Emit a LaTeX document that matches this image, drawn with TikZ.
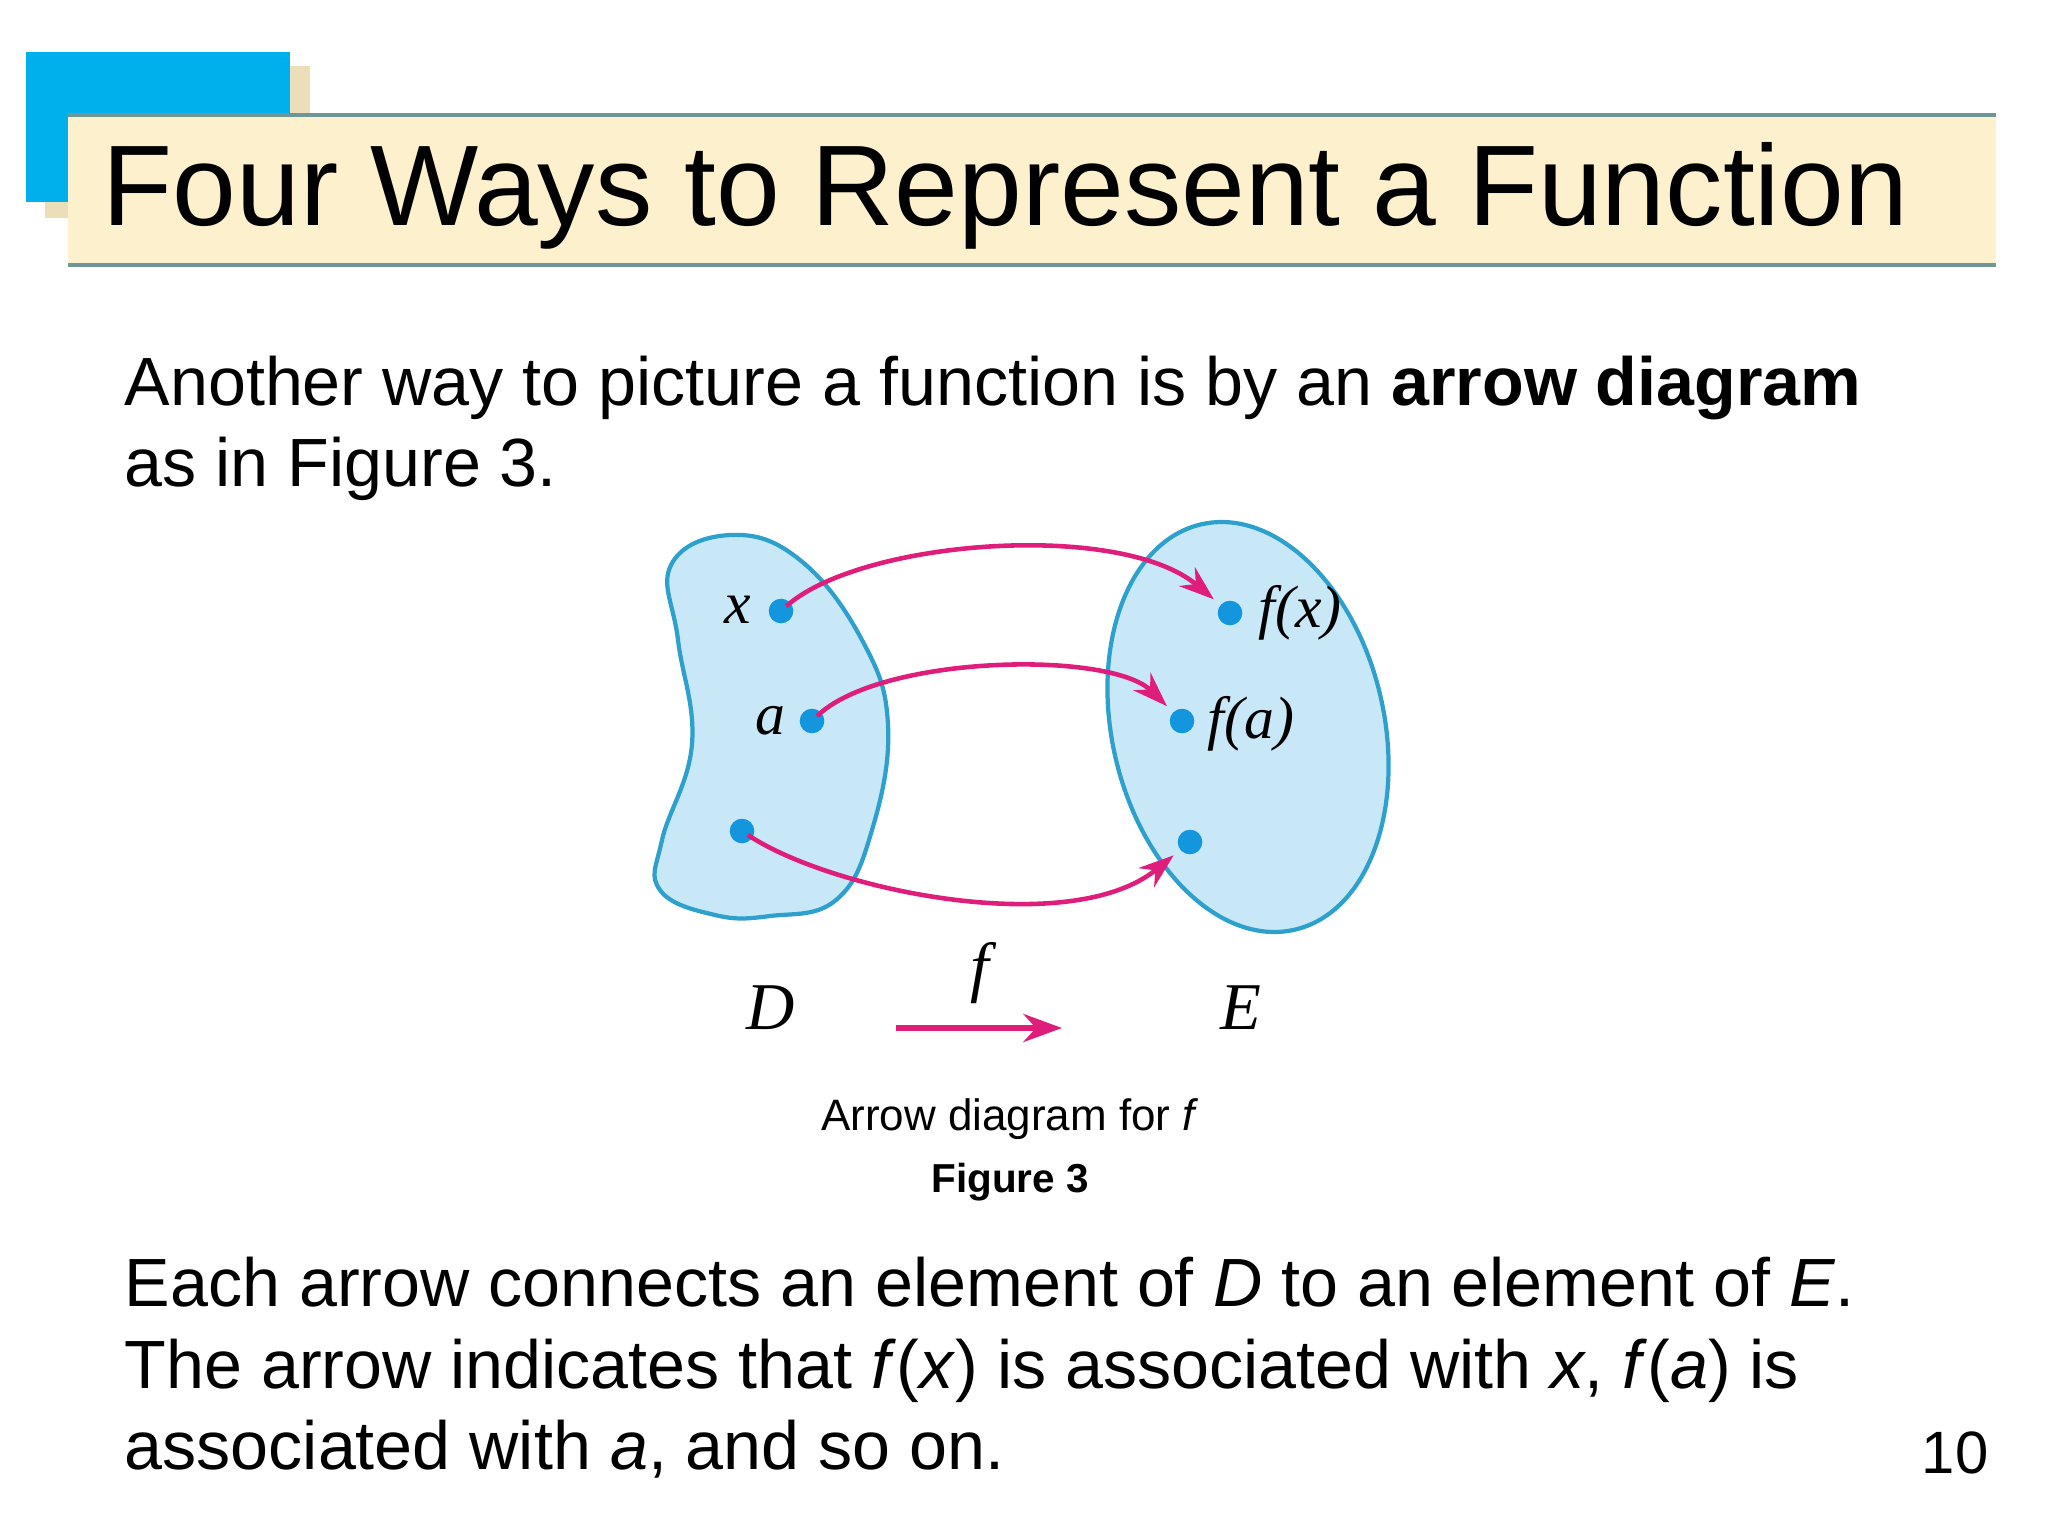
\documentclass[tikz,border=0pt]{standalone}
\usepackage{fontspec}
\setmainfont{Liberation Sans}
\newfontfamily\serifit{Liberation Serif}
\usetikzlibrary{arrows.meta}
\definecolor{setfill}{RGB}{200,232,247}
\definecolor{setline}{RGB}{45,160,205}
\definecolor{arr}{RGB}{222,30,122}
\definecolor{dotc}{RGB}{20,150,222}
\definecolor{band}{RGB}{253,240,205}
\definecolor{bandline}{RGB}{110,150,150}
\definecolor{ttlblue}{RGB}{0,176,236}
\definecolor{shadow}{RGB}{236,222,185}
\tikzset{
  pt/.style={circle,fill=dotc,inner sep=0pt,minimum size=7pt},
  lab/.style={font=\serifit\itshape\fontsize{17}{17}\selectfont,inner sep=0pt},
  maparrow/.style={draw=arr,line width=1.3pt,-{Stealth[length=10pt,width=7pt]},shorten >=6pt,shorten <=2pt},
  body/.style={anchor=base west,inner sep=0pt,font=\fontsize{19.4}{24}\selectfont}
}
\begin{document}
\begin{tikzpicture}[x=0.01cm,y=-0.01cm]
\useasboundingbox (0,0) rectangle (2048,1536);
% title
\fill[shadow] (45,66) rectangle (310,218);
\fill[ttlblue] (26,52) rectangle (290,202);
\fill[band] (68,115) rectangle (1996,265);
\draw[bandline,line width=1.2pt] (68,115) -- (1996,115);
\draw[bandline,line width=1.2pt] (68,265) -- (1996,265);
\node[anchor=base west,inner sep=0pt,font=\fontsize{32.6}{40}\selectfont] (title) at (102,225) {Four Ways to Represent a Function};
% body
\node[body] (p1) at (124,405) {Another way to picture a function is by an \textbf{arrow diagram}};
\node[body] (p2) at (124,486) {as in Figure 3.};
\node[body] (q1) at (124,1306) {Each arrow connects an element of \textit{D} to an element of \textit{E}.};
\node[body] (q2) at (124,1388) {The arrow indicates that \textit{f}(\textit{x}) is associated with \textit{x}, \textit{f}(\textit{a}) is};
\node[body] (q3) at (124,1469) {associated with \textit{a}, and so on.};
\node[anchor=base,inner sep=0pt,font=\fontsize{17}{20}\selectfont] (pg) at (1955,1473) {10};
% sets
\draw[setline,fill=setfill,line width=1.2pt]
  plot[smooth cycle,tension=0.7] coordinates {(731,535) (800,560) (862,640) (888,725) (872,830) (836,900) (770,916) (715,915) (660,890) (662,840) (692,744) (678,640) (671,565)};
\draw[setline,fill=setfill,line width=1.2pt] (1248,727) ellipse[x radius=208,y radius=136,rotate=-77];
% points
\node[pt] (x) at (781,611) {};
\node[pt] (a) at (812,721) {};
\node[pt] (z) at (742,831) {};
\node[pt] (fx) at (1230,613) {};
\node[pt] (fa) at (1182,721) {};
\node[pt] (fz) at (1190,842) {};
\node[lab] (lx) at (738,610) {x};
\node[lab] (la) at (770,721) {a};
\node[lab] (lfx) at (1300,613) {f(x)};
\node[lab] (lfa) at (1251,724) {f(a)};
\draw[maparrow] (x.center) .. controls (860,540) and (1120,520) .. (fx.center);
\draw[maparrow] (a.center) .. controls (880,655) and (1110,650) .. (fa.center);
\draw[maparrow] (z.center) .. controls (830,890) and (1070,940) .. (fz.center);
% D f E
\node[lab,font=\serifit\itshape\fontsize{19}{19}\selectfont] (DD) at (771,1008) {D};
\node[lab,font=\serifit\itshape\fontsize{19}{19}\selectfont] (EE) at (1241,1008) {E};
\node[lab,font=\serifit\itshape\fontsize{19}{19}\selectfont] (ff) at (980,973) {f};
\coordinate (s) at (896,1028);
\coordinate (t) at (1062,1028);
\draw[draw=arr,line width=1.5pt,-{Stealth[length=11pt,width=8pt]}] (s) -- (t);
% caption
\node[anchor=base,inner sep=0pt,font=\fontsize{12.5}{14}\selectfont] (cap) at (1010,1130) {Arrow diagram for \textit{f}};
\node[anchor=base,inner sep=0pt,font=\bfseries\fontsize{11.5}{14}\selectfont] (fig) at (1010,1192) {Figure 3};
\end{tikzpicture}
\end{document}
